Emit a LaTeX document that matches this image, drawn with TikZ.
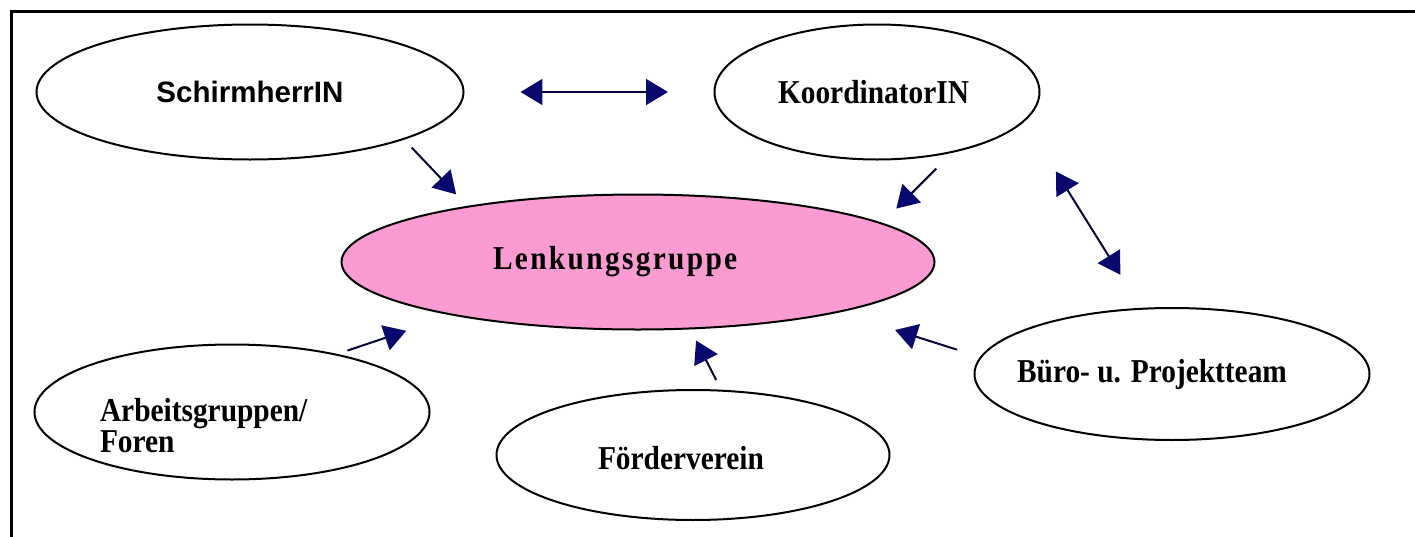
\documentclass[tikz,border=0pt]{standalone}
\usepackage{fontspec}
\setmainfont{Liberation Serif}
\setsansfont{Liberation Sans}
\newfontfamily\bubblefont{Liberation Serif}[FakeStretch=0.88]
\usepackage{tikz}
\usetikzlibrary{arrows.meta,shapes.geometric}
\definecolor{navy}{RGB}{10,10,110}
\definecolor{lpink}{RGB}{250,155,210}
\tikzset{
  bubble/.style={ellipse, draw=black, line width=0.2mm, fill=white, inner sep=0pt, outer sep=0pt, minimum height=13.5mm, font=\bubblefont\fontsize{9.5}{8.8}\selectfont\bfseries},
  link/.style={-{Triangle[length=2.2mm,width=2.6mm,color=navy]}, line width=0.2mm, draw=navy!50!black},
  dlink/.style={{Triangle[length=2.2mm,width=2.6mm,color=navy]}-{Triangle[length=2.2mm,width=2.6mm,color=navy]}, line width=0.2mm, draw=navy!50!black}
}
\begin{document}
\begin{tikzpicture}[x=0.1mm, y=-0.1mm]
  \useasboundingbox (0,0) rectangle (1415,536);
  \draw[line width=0.3mm] (11,540) |- (1420,11);
  \node[bubble, minimum width=42.7mm, font=\sffamily\fontsize{8.4}{10}\selectfont\bfseries] (schirm) at (250,92) {SchirmherrIN};
  \node[bubble, minimum width=32.5mm, text width=19.8mm, align=left] (koord) at (877,92) {KoordinatorIN};
  \node[bubble, minimum width=59.3mm, fill=lpink, text width=29mm, align=left] (lenk) at (638,262) {\addfontfeature{LetterSpace=7}Lenkungsgruppe};
  \node[bubble, minimum width=39.5mm, text width=26.4mm, align=left] (arbeit) at (232,412) {\rule{0pt}{5mm}Arbeitsgruppen/\\Foren};
  \node[bubble, minimum width=39.3mm, minimum height=13mm, text width=19mm, align=left] (foerder) at (693,455) {\rule{0pt}{3mm}Förderverein};
  \node[bubble, minimum width=39.5mm, minimum height=13.2mm] (buero) at (1172,374) {\makebox[0pt]{Büro- u. Projektteam\hspace*{4mm}}};
  \draw[dlink, shorten <=5.7mm, shorten >=4.65mm] (schirm.east) -- (koord.west);
  \draw[link, shorten <=1.2mm, shorten >=1.7mm] (schirm.-17.3) -- (lenk.162.3);
  \draw[link, shorten <=2.4mm, shorten >=2.1mm] (koord.-38.2) -- (lenk.9.4);
  \draw[dlink, shorten <=6mm, shorten >=4mm] (koord.-11.3) -- (buero.115.1);
  \draw[link, shorten <=1.25mm, shorten >=5mm] (arbeit.29.9) -- (lenk.196);
  \draw[link, shorten <=1.2mm, shorten >=1.35mm] (foerder.66.9) -- (lenk.-52.3);
  \draw[link, shorten <=2.5mm, shorten >=6mm] (buero.175.1) -- (lenk.-14.2);
\end{tikzpicture}
\end{document}
